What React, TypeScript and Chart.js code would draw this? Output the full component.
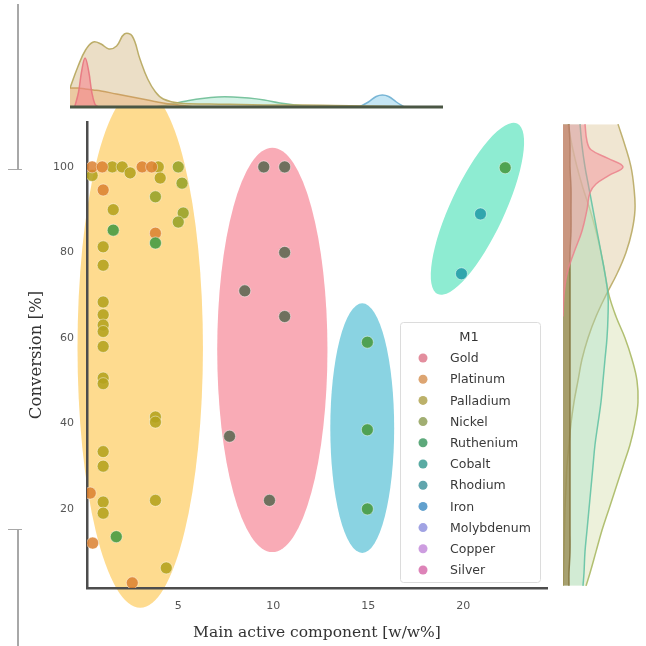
import React, { useEffect, useRef } from "react";
import { Chart, registerables } from "chart.js";
Chart.register(...registerables);

// ---------------- data ----------------
const legendTitle = "M1";
const metals = ["Gold", "Platinum", "Palladium", "Nickel", "Ruthenium", "Cobalt", "Rhodium", "Iron", "Molybdenum", "Copper", "Silver"];

const goldX = [9.5, 10.6, 10.6, 8.5, 10.6, 7.7, 9.8];
const goldY = [100, 100, 80, 71, 65, 37, 22];
const platinumX = [0.47, 1.0, 3.1, 3.6, 1.05, 3.8, 0.37, 0.5, 2.58];
const platinumY = [100, 100, 100, 100, 94.6, 84.5, 23.7, 12, 2.7];
const palladiumX = [0.47, 1.53, 2.05, 2.47, 3.95, 4.05, 1.58, 1.05, 1.05, 1.05, 1.05, 1.05, 1.05, 1.05, 1.05, 1.05, 1.05, 1.05, 1.05, 1.05, 3.8, 3.8, 3.8, 4.37];
const palladiumY = [98, 100, 100, 98.6, 100, 97.4, 90, 81.3, 77, 68.4, 65.4, 63, 61.5, 58, 50.6, 49.3, 33.4, 30, 21.6, 19, 41.5, 40.3, 22, 6.2];
const nickelX = [5.0, 5.2, 3.8, 5.26, 5.0];
const nickelY = [100, 96.2, 93, 89.2, 87.1];
const rutheniumX = [1.58, 3.8, 1.74, 14.95, 14.95, 14.95, 22.2];
const rutheniumY = [85.2, 82.2, 13.5, 59, 38.5, 20, 99.8];
const cobaltX = [20.9, 19.9];
const cobaltY = [89, 75];

// confidence ellipses (data units)
const ellipseCx = [3.0, 9.95, 14.68, 20.74];
const ellipseCy = [57.7, 57.2, 38.9, 90.2];
const ellipseRx = [3.3, 2.9, 1.68, 1.42];
const ellipseRy = [60.8, 47.3, 29.2, 22.0];
const ellipseAngleDeg = [0, 0, 0, 25];

// top marginal densities (x = loading, y = density)
const topPdX = [0, 0.5, 1, 1.5, 2, 2.5, 3, 3.5, 4, 4.5, 5, 5.5, 6, 7, 9, 11, 13, 15, 17, 19, 21, 23];
const topPdY = [19, 40, 57, 65, 63, 58, 61, 73, 71, 48, 28, 15, 8, 4, 3, 2.5, 2, 2, 1.5, 1, 0.5, 0];
const topPtX = [0, 0.5, 1, 1.5, 2, 3, 4, 5, 6, 7, 8];
const topPtY = [19, 19, 18, 17, 16, 13, 10, 7, 4, 2, 0];
const topAuX = [0.3, 0.55, 0.75, 0.97, 1.2, 1.4, 1.6, 1.8];
const topAuY = [0, 15, 36, 49, 36, 15, 3, 0];
const topRuX = [5.5, 6.5, 7.5, 8.5, 9.5, 10.5, 11.5, 12.5, 13.5, 14.5, 15.5];
const topRuY = [0, 3, 6, 8.5, 10, 10, 9, 7, 4, 2, 0.5];
const topFeX = [18.6, 19.2, 19.7, 20.1, 20.5, 21.0, 21.5];
const topFeY = [0, 5, 10.5, 12, 10.5, 5, 0];

// right marginal densities (y = conversion, x = density)
const rightGridY = [110, 105, 100, 95, 90, 85, 80, 75, 70, 65, 60, 55, 50, 45, 40, 35, 30, 25, 20, 15, 10, 5, 2];
const rightPdX = [55, 62, 68, 71, 72, 69, 63, 54, 43, 33, 25, 19, 15, 11, 8, 6, 4, 3, 2, 1.5, 1, 0.5, 0.3];
const rightNiX = [5, 9, 14, 20, 27, 33, 38, 42, 46, 53, 62, 69, 74, 75, 72, 67, 60, 53, 46, 39, 33, 27, 23];
const rightCoX = [17, 19, 22, 26, 30, 34, 38, 42, 45, 45, 44, 42, 40, 38, 35, 32, 30, 28, 26, 24, 22, 21, 20];
const rightPtX = [6, 7, 7, 8, 8, 8, 7, 7, 7, 7, 7, 7, 7, 7, 7, 7, 7, 7, 7, 7, 7, 6, 6];
const rightAuY = [110, 106, 104, 102, 100, 98, 96, 94, 90, 85, 80, 75, 70, 65];
const rightAuX = [22, 24, 28, 45, 60, 46, 33, 27, 24, 19, 11, 4, 1, 0];

// ---------------- styles ----------------
const legendColors = ["#dc7286", "#d58f4f", "#ab9d45", "#8a9a4f", "#35945a", "#2f968c", "#3a8e98", "#3a88c0", "#8a8cdc", "#c184d8", "#d464a6"];
const ellipseColors = ["#fedb8f", "#f9abb6", "#8ad3e2", "#8eecd2"];

const pts = (xs: number[], ys: number[]) => xs.map((x, i) => ({ x, y: ys[i] }));
const ptsR = (xs: number[], ys: number[]) => ys.map((y, i) => ({ x: xs[i], y }));

const ellipsePlugin = {
  id: "ellipses",
  beforeDraw(chart: any) {
    const { ctx, scales } = chart;
    const sx = scales.x, sy = scales.y;
    ctx.save();
    ctx.beginPath();
    ctx.rect(0, 108, chart.width, chart.height - 108);
    ctx.clip();
    for (let i = 0; i < ellipseCx.length; i++) {
      const cx = sx.getPixelForValue(ellipseCx[i]);
      const cy = sy.getPixelForValue(ellipseCy[i]);
      const rx = Math.abs(sx.getPixelForValue(ellipseCx[i] + ellipseRx[i]) - cx);
      const ry = Math.abs(sy.getPixelForValue(ellipseCy[i] + ellipseRy[i]) - cy);
      ctx.beginPath();
      ctx.ellipse(cx, cy, rx, ry, (ellipseAngleDeg[i] * Math.PI) / 180, 0, Math.PI * 2);
      ctx.fillStyle = ellipseColors[i];
      ctx.fill();
    }
    ctx.restore();
  },
};

const legendPlugin = {
  id: "customLegend",
  afterDraw(chart: any) {
    const { ctx, chartArea } = chart;
    const x0 = chartArea.right - 147;
    const y0 = chartArea.bottom - 266;
    const w = 140, h = 260;
    ctx.save();
    ctx.fillStyle = "rgba(255,255,255,0.9)";
    ctx.strokeStyle = "#dcdcdc";
    ctx.lineWidth = 1;
    ctx.beginPath();
    ctx.roundRect(x0 + 0.5, y0 + 0.5, w, h, 3);
    ctx.fill();
    ctx.stroke();
    ctx.fillStyle = "#333";
    ctx.textBaseline = "middle";
    ctx.textAlign = "center";
    ctx.font = "13px 'DejaVu Sans'";
    ctx.fillText(legendTitle, x0 + 69, y0 + 16);
    ctx.textAlign = "left";
    ctx.font = "12.5px 'DejaVu Sans'";
    metals.forEach((m, i) => {
      const yy = y0 + 36 + i * 21.2;
      ctx.beginPath();
      ctx.arc(x0 + 23, yy, 4.5, 0, Math.PI * 2);
      ctx.fillStyle = legendColors[i];
      ctx.globalAlpha = 0.8;
      ctx.fill();
      ctx.globalAlpha = 1;
      ctx.fillStyle = "#3a3a3a";
      ctx.fillText(m, x0 + 50, yy + 1);
    });
    ctx.restore();
  },
};

const baselinePlugin = {
  id: "baseline",
  afterDatasetsDraw(chart: any) {
    const { ctx, chartArea, scales } = chart;
    const y = scales.y.getPixelForValue(0);
    ctx.save();
    ctx.strokeStyle = "#4a5644";
    ctx.lineWidth = 3;
    ctx.beginPath();
    ctx.moveTo(chartArea.left, y);
    ctx.lineTo(chartArea.right, y);
    ctx.stroke();
    ctx.restore();
  },
};

function scatterSet(label: string, xs: number[], ys: number[], color: string) {
  return {
    label,
    data: pts(xs, ys),
    backgroundColor: color,
    borderColor: "rgba(255,255,255,0.45)",
    borderWidth: 1,
    pointRadius: 6,
  };
}

function kde(label: string, data: any[], fill: string, border: string) {
  return {
    label,
    data,
    backgroundColor: fill,
    borderColor: border,
    borderWidth: 1.5,
    fill: "origin",
    tension: 0.4,
    pointRadius: 0,
  };
}

export default function App() {
  const mainRef = useRef<HTMLCanvasElement>(null);
  const topRef = useRef<HTMLCanvasElement>(null);
  const rightRef = useRef<HTMLCanvasElement>(null);

  useEffect(() => {
    const charts: Chart[] = [];
    charts.push(
      new Chart(mainRef.current as HTMLCanvasElement, {
        type: "scatter",
        data: {
          datasets: [
            scatterSet("Gold", goldX, goldY, "rgba(92,104,82,0.88)"),
            scatterSet("Cobalt", cobaltX, cobaltY, "rgba(38,158,168,0.9)"),
            scatterSet("Ruthenium", rutheniumX, rutheniumY, "rgba(72,155,68,0.9)"),
            scatterSet("Platinum", platinumX, platinumY, "rgba(218,128,48,0.85)"),
            scatterSet("Nickel", nickelX, nickelY, "rgba(150,162,40,0.88)"),
            scatterSet("Palladium", palladiumX, palladiumY, "rgba(180,162,30,0.88)"),
          ] as any,
        },
        options: {
          responsive: false,
          animation: false,
          layout: { padding: { left: 0, right: 99, top: 122, bottom: 0 } },
          plugins: { legend: { display: false }, tooltip: { enabled: false } },
          scales: {
            x: {
              type: "linear",
              min: 0.2,
              max: 24.4,
              grid: { display: false, drawTicks: false },
              border: { display: true, color: "#4d4d4d", width: 2.5 },
              ticks: { stepSize: 5, includeBounds: false, color: "#555", padding: 12, font: { size: 11, family: "'DejaVu Sans'" } },
              title: {
                display: true,
                text: "Main active component [w/w%]",
                color: "#333",
                font: { size: 15.5, family: "'DejaVu Serif'" },
                padding: { top: 0, bottom: 4 },
              },
              afterFit: (s: any) => { s.height = 58; },
            },
            y: {
              type: "linear",
              min: 1.5,
              max: 110.5,
              grid: { display: false, drawTicks: false },
              border: { display: true, color: "#4d4d4d", width: 2.5 },
              ticks: { stepSize: 20, includeBounds: false, color: "#555", padding: 13, font: { size: 11, family: "'DejaVu Sans'" } },
              title: {
                display: true,
                text: "Conversion [%]",
                color: "#333",
                font: { size: 16.5, family: "'DejaVu Serif'" },
                padding: { top: 27, bottom: 0 },
              },
              afterFit: (s: any) => { s.width = 87; },
            },
          },
        } as any,
        plugins: [ellipsePlugin, legendPlugin],
      })
    );

    charts.push(
      new Chart(topRef.current as HTMLCanvasElement, {
        type: "line",
        data: {
          datasets: [
            kde("Gold", pts(topAuX, topAuY), "rgba(245,128,140,0.55)", "rgba(232,118,128,0.9)"),
            kde("Platinum", pts(topPtX, topPtY), "rgba(236,160,92,0.35)", "rgba(196,150,80,0.8)"),
            kde("Palladium", pts(topPdX, topPdY), "rgba(222,200,160,0.6)", "rgba(182,166,92,0.9)"),
            kde("Ruthenium", pts(topRuX, topRuY), "rgba(160,226,200,0.45)", "rgba(110,190,150,0.9)"),
            kde("Iron", pts(topFeX, topFeY), "rgba(150,210,235,0.55)", "rgba(110,175,210,0.9)"),
          ] as any,
        },
        options: {
          responsive: false,
          animation: false,
          layout: { padding: { left: 70, right: 203, top: 27, bottom: 3 } },
          plugins: { legend: { display: false }, tooltip: { enabled: false } },
          scales: {
            x: { type: "linear", min: 0, max: 24, display: false },
            y: { type: "linear", min: 0, max: 80, display: false },
          },
        } as any,
        plugins: [baselinePlugin],
      })
    );

    charts.push(
      new Chart(rightRef.current as HTMLCanvasElement, {
        type: "line",
        data: {
          datasets: [
            kde("Gold", ptsR(rightAuX, rightAuY), "rgba(245,140,150,0.45)", "rgba(235,130,140,0.85)"),
            kde("Platinum", ptsR(rightPtX, rightGridY), "rgba(150,130,70,0.7)", "rgba(130,115,60,0.9)"),
            kde("Cobalt", ptsR(rightCoX, rightGridY), "rgba(160,225,200,0.35)", "rgba(100,195,165,0.9)"),
            kde("Palladium", ptsR(rightPdX, rightGridY), "rgba(225,205,165,0.5)", "rgba(185,170,100,0.9)"),
            kde("Nickel", ptsR(rightNiX, rightGridY), "rgba(215,225,175,0.45)", "rgba(170,185,100,0.9)"),
          ] as any,
        },
        options: {
          responsive: false,
          animation: false,
          indexAxis: "y",
          layout: { padding: { left: 8, right: 0, top: 122, bottom: 58 } },
          plugins: { legend: { display: false }, tooltip: { enabled: false } },
          scales: {
            x: { type: "linear", min: 0, max: 83, display: false },
            y: { type: "linear", min: 1.5, max: 110.5, display: false },
          },
        } as any,
      })
    );

    return () => charts.forEach((c) => c.destroy());
  }, []);

  const bracket = { position: "absolute" as const, background: "#a8a8a8" };
  return (
    <div style={{ position: "fixed", left: 0, top: 0, width: 646, height: 646, background: "#fff", overflow: "hidden" }}>
      <canvas ref={mainRef} width={646} height={646} style={{ position: "absolute", left: 0, top: 0 }} />
      <canvas ref={topRef} width={646} height={110} style={{ position: "absolute", left: 0, top: 0 }} />
      <canvas ref={rightRef} width={91} height={646} style={{ position: "absolute", left: 555, top: 0 }} />
      <div style={{ ...bracket, left: 17, top: 4, width: 1.5, height: 166 }} />
      <div style={{ ...bracket, left: 8, top: 169, width: 14, height: 1.2 }} />
      <div style={{ ...bracket, left: 17, top: 529, width: 1.5, height: 117 }} />
      <div style={{ ...bracket, left: 8, top: 529, width: 14, height: 1.2 }} />
    </div>
  );
}
